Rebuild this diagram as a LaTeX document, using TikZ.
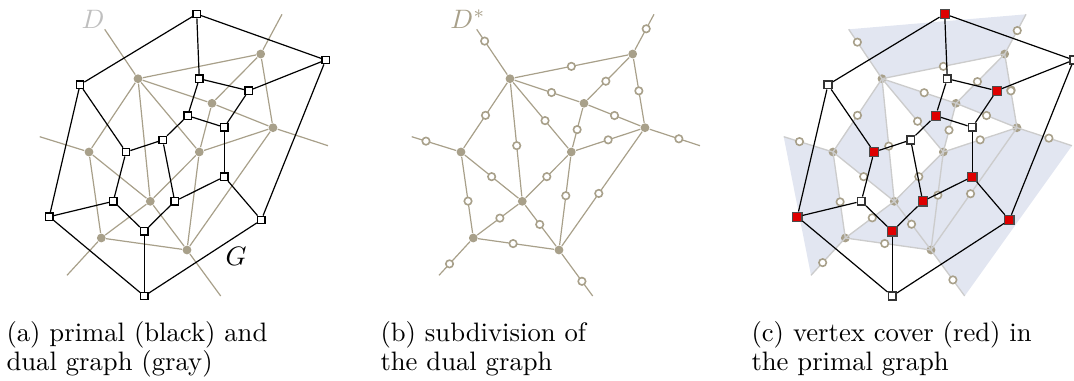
\documentclass[tikz,border=0pt]{standalone}
\usepackage{xcolor}
\usepackage{tikz}

\definecolor{dualtan}{RGB}{168,160,138}
\definecolor{covred}{RGB}{222,0,0}
\definecolor{faceblue}{RGB}{226,230,241}

% positions in pixels of the left panel
\def\primalpos{1/196.7/14, 2/325.7/60, 3/80/84.7, 4/199.3/78.7, 5/248.7/90.7, 6/187.7/115.7, 7/224.3/127.3, 8/162.7/140, 9/126/152, 10/224.3/176.7, 11/113.3/201.3, 12/174.7/201.3, 13/49.3/216.7, 14/261.3/220, 15/144.3/231.3, 16/144.3/296}
\def\primaledges{1/2, 1/3, 1/4, 2/5, 2/14, 3/9, 3/13, 4/5, 4/6, 5/7, 6/7, 6/8, 7/10, 8/9, 8/12, 9/11, 10/12, 10/14, 11/13, 11/15, 12/15, 13/16, 14/16, 15/16}
\def\dualpos{1/138/78.7, 2/260.7/54, 3/212/103.3, 4/273/127.7, 5/89/152, 6/199.3/152, 7/150.3/201.3, 8/101.3/238, 9/187/250}
\def\dualends{1/104.7/29.3, 2/282/14.3, 4/328/145.7, 5/39.7/136.7, 8/67/275.3, 9/220.7/296}
% u/v/where the subdivision vertex sits
\def\dualedges{1/2/0.5, 1/3/0.57, 1/5/0.5, 1/6/0.58, 1/7/0.55, 2/3/0.56, 2/4/0.5, 3/4/0.5, 3/6/0.55, 4/6/0.5, 4/9/0.54, 5/7/0.5, 5/8/0.58, 6/7/0.5, 6/9/0.44, 7/8/0.45, 7/9/0.47, 8/9/0.46}
\def\halfedges{1/0.74, 2/0.59, 4/0.58, 5/0.68, 8/0.66, 9/0.65}

\begin{document}
\begin{tikzpicture}[
  x=0.375pt, y=-0.375pt,
  primal/.style={rectangle, draw=black, fill=white, line width=0.5pt, inner sep=0pt, minimum size=2.8pt},
  primalc/.style={primal, draw=black!80, line width=0.65pt, minimum size=2.9pt},
  cover/.style={primal, fill=covred, draw=black!70, line width=0.5pt, minimum size=3.4pt},
  dual/.style={circle, fill=dualtan, inner sep=0pt, minimum size=3.3pt},
  sub/.style={circle, draw=dualtan, fill=white, line width=0.6pt, inner sep=0pt, minimum size=2.8pt},
  pedge/.style={draw=black, line width=0.45pt},
  dedge/.style={draw=dualtan, line width=0.45pt},
  dedgec/.style={draw=black!20, line width=0.5pt},
  subcap/.style={anchor=north west, inner sep=0pt, align=left, font=\fontsize{10}{11}\selectfont}
]
\useasboundingbox (0,0) rectangle (1074,380);

% (a) primal and dual
\foreach \n/\x/\y in \dualpos {\node[dual] (ad\n) at (\x,\y) {};}
\foreach \n/\x/\y in \dualends {\coordinate (ae\n) at (\x,\y);}
\foreach \u/\v/\p in \dualedges {\draw[dedge] (ad\u) -- (ad\v);}
\foreach \n/\p in \halfedges {\draw[dedge] (ad\n) -- (ae\n);}
\foreach \n/\x/\y in \primalpos {\node[primal] (ap\n) at (\x,\y) {};}
\foreach \u/\v in \primaledges {\draw[pedge] (ap\u) -- (ap\v);}
\node[text=black!25] (dlabel) at (93,19) {$D$};
\node (glabel) at (236,256) {$G$};

% (b) subdivided dual
\begin{scope}[shift={(372,0)}]
\foreach \n/\x/\y in \dualpos {\node[dual] (bd\n) at (\x,\y) {};}
\foreach \n/\x/\y in \dualends {\coordinate (be\n) at (\x,\y);}
\foreach \u/\v/\p in \dualedges {\draw[dedge] (bd\u) -- node[sub, pos=\p] (bs\u\v) {} (bd\v);}
\foreach \n/\p in \halfedges {\draw[dedge] (bd\n) -- node[sub, pos=\p] (bh\n) {} (be\n);}
\node[text=dualtan] (dslabel) at (96,19) {$D^*$};
\end{scope}

% (c) vertex cover
\begin{scope}[shift={(748,0)}]
  \begin{scope}[shift={(-4,0)}]
  \foreach \n/\x/\y in \dualpos {\coordinate (cd\n) at (\x,\y);}
  \foreach \n/\x/\y in \dualends {\coordinate (ce\n) at (\x,\y);}
  % dual faces of the red vertices
  \fill[faceblue] (ce1) -- (cd1) -- (cd2) -- (ce2) -- cycle;
  \fill[faceblue] (ce5) -- (cd5) -- (cd8) -- (ce8) -- cycle;
  \fill[faceblue] (ce4) -- (cd4) -- (cd9) -- (ce9) -- cycle;
  \fill[faceblue] (cd2) -- (cd3) -- (cd4) -- cycle;
  \fill[faceblue] (cd1) -- (cd3) -- (cd6) -- cycle;
  \fill[faceblue] (cd1) -- (cd5) -- (cd7) -- cycle;
  \fill[faceblue] (cd6) -- (cd4) -- (cd9) -- cycle;
  \fill[faceblue] (cd6) -- (cd7) -- (cd9) -- cycle;
  \fill[faceblue] (cd7) -- (cd8) -- (cd9) -- cycle;
  \foreach \n/\x/\y in \dualpos {\node[dual] (cdot\n) at (cd\n) {};}
  \node[dual, minimum size=3.5pt] (cextra) at (267,90) {};
  \foreach \u/\v/\p in \dualedges {\draw[dedgec] (cd\u) -- node[sub, pos=\p] (cs\u\v) {} (cd\v);}
  \foreach \n/\p in \halfedges {\draw[dedgec] (cd\n) -- node[sub, pos=\p] (ch\n) {} (ce\n);}
  \end{scope}
\foreach \n/\x/\y in \primalpos {\coordinate (cq\n) at (\x,\y);}
\foreach \n in {2,3,4,7,8,11,16} {\node[primalc] (cp\n) at (cq\n) {};}
\foreach \n in {1,5,6,9,10,12,13,14,15} {\node[cover] (cp\n) at (cq\n) {};}
\foreach \u/\v in \primaledges {\draw[pedge] (cp\u) -- (cp\v);}
\end{scope}

% captions
\node[subcap] (capa) at (6,321) {(a) primal (black) and\\dual graph (gray)};
\node[subcap] (capb) at (380,321) {(b) subdivision of\\the dual graph};
\node[subcap] (capc) at (751,321) {(c) vertex cover (red) in\\the primal graph};
\end{tikzpicture}
\end{document}
